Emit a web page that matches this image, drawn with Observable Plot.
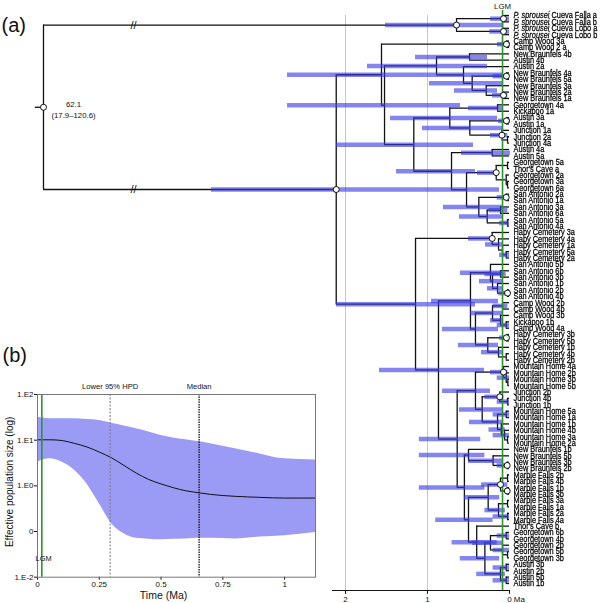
<!DOCTYPE html>
<html><head><meta charset="utf-8">
<script src="https://cdn.jsdelivr.net/npm/d3@7"></script>
<script src="https://cdn.jsdelivr.net/npm/@observablehq/plot@0.6"></script>
<style>
body{margin:0;background:#fff}
#wrap{position:relative;width:600px;height:603px;overflow:hidden}
#wrap svg{position:absolute}
</style></head><body><div id="wrap"></div>
<script>
// ---------- DATA: panel (a) tree ----------
const tipLabels = [
"P. sprousei Cueva Falla a","P. sprousei Cueva Falla b","P. sprousei Cueva Lobo a","P. sprousei Cueva Lobo b",
"Camp Wood 3a","Camp Wood 2 a","New Braunfels 4b","Austin 4b","Austin 2a","New Braunfels 4a","New Braunfels 5a",
"New Braunfels 3a","New Braunfels 2a","New Braunfels 1a","Georgetown 4a","Kickapoo 1a","Austin 3a","Austin 1a",
"Junction 1a","Junction 2a","Junction 4a","Austin 4a","Austin 5a","Georgetown 5a","Thor's Cave a","Georgetown 2a",
"Georgetown 3a","Georgetown 6a","San Antonio 2a","San Antonio 1a","San Antonio 3a","San Antonio 6a","San Antonio 5a",
"San Antonio 4a","Haby Cemetery 3a","Haby Cemetery 4a","Haby Cemetery 1a","Haby Cemetery 5a","Haby Cemetery 2a",
"San Antonio 5b","San Antonio 6b","San Antonio 3b","San Antonio 1b","San Antonio 2b","San Antonio 4b","Camp Wood 2b",
"Camp Wood 4b","Camp Wood 3b","Kickapoo 1b","Camp Wood 4a","Haby Cemetery 3b","Haby Cemetery 5b","Haby Cemetery 1b",
"Haby Cemetery 4b","Haby Cemetery 2b","Mountain Home 4a","Mountain Home 2b","Mountain Home 3b","Mountain Home 5b",
"Junction 2b","Junction 4b","Junction 1b","Mountain Home 5a","Mountain Home 1a","Mountain Home 1b","Mountain Home 4b",
"Mountain Home 3a","Mountain Home 2a","New Braunfels 1b","New Braunfels 5b","New Braunfels 3b","New Braunfels 2b",
"Marble Falls 2b","Marble Falls 4b","Marble Falls 1b","Marble Falls 3b","Marble Falls 3a","Marble Falls 1a",
"Marble Falls 2a","Marble Falls 4a","Thor's Cave b","Georgetown 6b","Georgetown 4b","Georgetown 2b","Georgetown 5b",
"Georgetown 3b","Austin 3b","Austin 2b","Austin 5b","Austin 1b"];

// clades: (children)age:hpdYoung:hpdOld, "o" = node drawn with a circle; ages in Ma
const cladeOutgroup = "((0,1)0.073:0:0.23o,(2,3)0.073:0:0.24o)0.646:0.07:1.512o";
const cladeCampWoodA = "(4,5)0.037:-0.012:0.146o";
const cladeD = "((6,7)0.488:0.268:1.146,(8,((9,10)0.037:0:0.2o,(11,(12,13)0.073:0.02:0.207o)0.284:0.146:0.671)0.455:0.073:0.976)0.561)0.890:0.268:1.732";
const cladeI = "((14,15)0.146:0.073:0.5,((16,17)0.037:-0.012:0.134o,(18,(19,20)0.024)0.092:0.02:0.232o)0.484:0.073:1.061)0.728:0.146:1.451";
const cladeK = "((21,22)0.211:-0.012:0.585,(((23,24)0.024,(25,(26,27)0.024)0.04)0.162:0.134:0.39o,((28,29)0.04:0:0.15o,((30,31)0.11:0.02:0.25,(32,33)0.024:0:0.12)0.272:0.073:0.61)0.374:0.073:0.805)0.524)0.707:0.415:1.378";
const cladeHabyA = "(34,(35,(36,(37,38)0.04:0:0.12)0.085)0.134:0.073:0.293)0.211:0.195:0.5o";
const cladeS = "((39,((40,41)0.11:0.04:0.3,(42,(43,44)0.024:0:0.13o)0.146:0.073:0.268)0.207:0.073:0.366)0.232:0.073:0.598,(((45,46)0.085:0.02:0.2,(47,(48,49)0.04:0:0.15)0.11:0.073:0.232)0.207:0.073:0.476,((50,51)0.037:0:0.12o,(52,(53,54)0.04)0.134:0.073:0.341)0.265:0.134:0.622)0.415:0.134:0.817)0.476:0.134:0.951";
const cladeAA = "((55,(56,(57,58)0.02)0.04:0:0.15)0.073:0.02:0.232o,((59,(60,61)0.024:0:0.15)0.118:0.073:0.3o,((62,63)0.04:0:0.2,(64,(65,(66,67)0.024)0.06:0:0.2)0.1:0.05:0.25)0.146:0.073:0.488)0.333:0.073:0.61)0.415:0.232:0.817";
const cladeTail = "((68,(69,(70,71)0.028:0:0.15o)0.2:0.073:0.5)0.5:0.3:1.1,((((72,73)0.024,(74,75)0.028o)0.11:0.02:0.341o,((76,77)0.024,(78,79)0.024:0:0.2)0.134:0.05:0.3)0.26:0.12:0.55,(80,(((81,82)0.04:0:0.15,(83,(84,85)0.024)0.085:0:0.2)0.232:0.073:0.45,((86,87)0.04:0:0.2,(88,89)0.04:0:0.2)0.11:0.05:0.4)0.3:0.12:0.6)0.4:0.15:0.7)0.5:0.2:0.9)0.55:0.3:1.1";
const cladeUpper = `(${cladeCampWoodA},(${cladeD},(${cladeI},${cladeK})1.167:0.439:2.11)1.524:0.598:2.707)1.561:0.073:2.707`;
const cladeLower = `(${cladeHabyA},(${cladeS},(${cladeAA},${cladeTail})0.638:0.35:1.1)0.866:0.305:1.585)1.146:0.415:2.11`;
const treeString = `(${cladeOutgroup},(${cladeUpper},${cladeLower})2.113:0.122:3.634o)62.1o`;

const rootLabel = ["62.1", "(17.9–120.6)"];
const treeTicks = [2, 1, 0];
const treeTickLabels = ["2", "1", "0 Ma"];
const guideAges = [2, 1];
const lgmTree = 0.085;

// ---------- DATA: panel (b) skyline ----------
const skyTime   = [0, 0.05, 0.1, 0.15, 0.2, 0.25, 0.3, 0.35, 0.4, 0.45, 0.5, 0.55, 0.6, 0.65, 0.7, 0.8, 0.9, 1.0, 1.125];
const skyMedian = [10.2, 10.2, 9.8, 8.5, 7.1, 5.5, 4.1, 2.8, 1.9, 1.38, 1.1, 0.91, 0.78, 0.71, 0.65, 0.59, 0.56, 0.54, 0.54];
const skyUpper  = [31.6, 29.5, 29.5, 29.5, 28.2, 26.9, 23.4, 20.4, 17.8, 15.1, 12.6, 11.2, 10.2, 9.3, 8.3, 6.5, 5.0, 3.9, 3.7];
const skyLower  = [3.3, 3.9, 3.3, 2.2, 1.1, 0.41, 0.148, 0.089, 0.071, 0.068, 0.066, 0.068, 0.069, 0.071, 0.071, 0.069, 0.076, 0.081, 0.095];
const skyTicksY = [100, 10, 1, 0.1, 0.01];
const skyTickLabelsY = ["1.E2", "1.E1", "1.E0", "0", "1.E-2"];
const skyTicksX = [0, 0.25, 0.5, 0.75, 1];
const skyTickLabelsX = ["0", "0.25", "0.5", "0.75", "1"];
const hpdLowerAge = 0.294, medianAge = 0.654, lgmAge = 0.0175;

// ---------- parse & layout ----------
function parse(s) {
  s = s.replace(/\s+/g, "");
  let i = 0;
  function node() {
    if (s[i] === "(") {
      i++;
      const children = [node()];
      while (s[i] === ",") { i++; children.push(node()); }
      i++;
      const m = /^([0-9.]+)(?::(-?[0-9.]+):(-?[0-9.]+))?(o?)/.exec(s.slice(i));
      i += m[0].length;
      return {children, age: +m[1], lo: m[2] != null ? +m[2] : null, hi: m[3] != null ? +m[3] : null, circle: m[4] === "o"};
    }
    const m = /^\d+/.exec(s.slice(i)); i += m[0].length;
    return {tip: +m[0], age: 0};
  }
  return node();
}
const ROOT_POS = 5.683, BREAK_POS = 4.585, AXIS_ROW = 90.1, AXIS_LEFT = 2.16;
const disp = a => a > 10 ? ROOT_POS : a;
const root = parse(treeString);
(function lay(n) {
  if (n.tip != null) { n.y = n.tip; return; }
  n.children.forEach(lay);
  n.y = (n.children[0].y + n.children[n.children.length - 1].y) / 2;
})(root);
const hSeg = [], vSeg = [], bars = [], circles = [];
(function walk(n) {
  if (!n.children) return;
  const x = disp(n.age);
  vSeg.push({x, y1: n.children[0].y, y2: n.children[n.children.length - 1].y});
  for (const c of n.children) { hSeg.push({x1: x, x2: disp(c.age), y: c.y}); walk(c); }
  if (n.lo != null) bars.push({x1: n.hi, x2: n.lo, y: n.y});
  if (n.circle) circles.push({x, y: n.y});
})(root);
hSeg.push({x1: ROOT_POS + 0.1, x2: ROOT_POS, y: root.y});
const breaks = root.children.map(c => ({x: BREAK_POS, y: c.y}));
const tips = tipLabels.map((label, i) => ({label, i}));

const baseFont = '"Liberation Sans",Arial,sans-serif';

const tree = Plot.plot({
  width: 600, height: 603, marginLeft: 0, marginRight: 0, marginTop: 15, marginBottom: 13,
  x: {domain: [6.2073, -1.1098], axis: null},
  y: {domain: [0, AXIS_ROW], reverse: true, axis: null},
  style: {background: "transparent", fontFamily: baseFont, fontSize: "8px", color: "#111"},
  marks: [
    Plot.ruleX(guideAges, {x: d => d, y1: 0, y2: AXIS_ROW, stroke: "#c8c8c8", strokeWidth: 1}),
    Plot.ruleY(hSeg, {x1: "x1", x2: "x2", y: "y", stroke: "#111", strokeWidth: 1.3}),
    Plot.ruleX(vSeg, {x: "x", y1: "y1", y2: "y2", stroke: "#111", strokeWidth: 1.3}),
    Plot.ruleY(bars, {x1: "x1", x2: "x2", y: "y", stroke: "#3a3ae6", strokeOpacity: 0.62, strokeWidth: 4.5}),
    Plot.ruleX([lgmTree], {x: d => d, y1: -0.8, y2: AXIS_ROW, stroke: "#2a962a", strokeWidth: 1.6}),
    Plot.dot(circles, {x: "x", y: "y", r: 3, fill: "white", stroke: "#111", strokeWidth: 1}),
    Plot.text(breaks, {x: "x", y: "y", text: () => "//", fontSize: 11, fill: "#111"}),
    Plot.text([root], {x: ROOT_POS, y: "y", text: () => rootLabel[0], dx: 30, dy: -3, fontSize: 7.8}),
    Plot.text([root], {x: ROOT_POS, y: "y", text: () => rootLabel[1], dx: 30, dy: 8, fontSize: 7.8}),
    Plot.text(tips, {x: 0, y: "i", text: "label", textAnchor: "start", dx: 4, fontSize: 9, fill: "#000", stroke: "#000", strokeWidth: 0.25}),
    Plot.text([lgmTree], {x: d => d, y: -1.4, text: () => "LGM", fontSize: 7.8}),
    Plot.ruleY([AXIS_ROW], {x1: AXIS_LEFT, x2: 0, stroke: "#111", strokeWidth: 1}),
    Plot.ruleX(treeTicks, {x: d => d, y1: AXIS_ROW, y2: AXIS_ROW + 0.6, stroke: "#111"}),
    Plot.text(treeTicks.slice(0, 2), {x: d => d, y: AXIS_ROW, dy: 9, text: (d, i) => treeTickLabels[i], fontSize: 8}),
    Plot.text(treeTicks.slice(2), {x: d => d, y: AXIS_ROW, dy: 9, dx: -2.3, textAnchor: "start", text: () => treeTickLabels[2], fontSize: 8}),
    Plot.text(["(a)"], {frameAnchor: "top-left", dx: 1, dy: 10, text: d => d, textAnchor: "start", lineAnchor: "middle", fontSize: 20})
  ]
});
tree.style.left = "0px"; tree.style.top = "0px";
const ns = "http://www.w3.org/2000/svg";
const defs = document.createElementNS(ns, "defs");
defs.innerHTML = '<filter id="tipgray" color-interpolation-filters="sRGB"><feColorMatrix type="saturate" values="0"/></filter>';
tree.insertBefore(defs, tree.firstChild);
const tipSet = new Set(tipLabels);
let tipGroup = null;
tree.querySelectorAll("text").forEach(t => {
  const s = t.textContent;
  if (!tipSet.has(s)) return;
  tipGroup = t.parentNode;
  // narrow the tip labels horizontally, as in the reference's condensed type
  const tr = t.getAttribute("transform");
  if (tr) t.setAttribute("transform", tr + " scale(0.82,1)");
  else {
    const x = +(t.getAttribute("x") || 0), y = +(t.getAttribute("y") || 0);
    t.removeAttribute("x"); t.removeAttribute("y");
    t.setAttribute("transform", `translate(${x},${y}) scale(0.82,1)`);
  }
  if (s.startsWith("P. sprousei ")) {
    t.textContent = "";
    const a = document.createElementNS(ns, "tspan"); a.setAttribute("font-style", "italic"); a.textContent = "P. sprousei";
    const b = document.createElementNS(ns, "tspan"); b.textContent = " " + s.slice(12);
    t.append(a, b);
  }
});
if (tipGroup) tipGroup.setAttribute("filter", "url(#tipgray)");

// ---------- panel (b) ----------
const sky = skyTime.map((t, i) => ({t, med: skyMedian[i], lo: skyLower[i], hi: skyUpper[i]}));
const pb = Plot.plot({
  width: 330, height: 263, marginLeft: 37, marginRight: 15, marginTop: 54, marginBottom: 26.3,
  style: {background: "transparent", fontFamily: baseFont, fontSize: "8px", color: "#111"},
  x: {domain: [0, 1.125], ticks: skyTicksX, tickFormat: d => skyTickLabelsX[skyTicksX.indexOf(d)], tickSize: 3, tickPadding: 1, label: null},
  y: {type: "log", domain: [0.01, 100], ticks: skyTicksY, tickFormat: d => skyTickLabelsY[skyTicksY.indexOf(d)], tickSize: 3, tickPadding: 1, label: null},
  marks: [
    Plot.areaY(sky, {x: "t", y1: "lo", y2: "hi", fill: "#9b9bf6", curve: "monotone-x"}),
    Plot.line(sky, {x: "t", y: "med", stroke: "#111", strokeWidth: 1, curve: "monotone-x"}),
    Plot.ruleX([hpdLowerAge], {x: d => d, stroke: "#777", strokeDasharray: "2,1.5"}),
    Plot.ruleX([medianAge], {x: d => d, stroke: "#111", strokeDasharray: "1.5,1", strokeWidth: 1.3}),
    Plot.ruleX([lgmAge], {x: d => d, stroke: "#2a962a", strokeWidth: 1.6}),
    Plot.frame({stroke: "#777"}),
    Plot.text(["Lower 95% HPD"], {x: hpdLowerAge, frameAnchor: "top", lineAnchor: "middle", dy: -8, text: d => d, fontSize: 7.6}),
    Plot.text(["Median"], {x: medianAge, frameAnchor: "top", lineAnchor: "middle", dy: -8, text: d => d, fontSize: 7.6}),
    Plot.text(["LGM"], {x: lgmAge + 0.007, frameAnchor: "bottom", lineAnchor: "middle", dy: -18.7, text: d => d, fontSize: 7.4}),
    Plot.text(["Effective population size (log)"], {frameAnchor: "left", textAnchor: "middle", lineAnchor: "middle", dx: -28, dy: -4, rotate: -90, text: d => d, fontSize: 10}),
    Plot.text(["Time (Ma)"], {frameAnchor: "bottom", textAnchor: "middle", lineAnchor: "middle", dx: -13, dy: 18.5, text: d => d, fontSize: 10.5}),
    Plot.text(["(b)"], {frameAnchor: "top-left", textAnchor: "start", lineAnchor: "middle", dx: -35, dy: -39, text: d => d, fontSize: 20})
  ]
});
pb.style.left = "0px"; pb.style.top = "340px";
document.getElementById("wrap").append(tree, pb);
</script></body></html>
